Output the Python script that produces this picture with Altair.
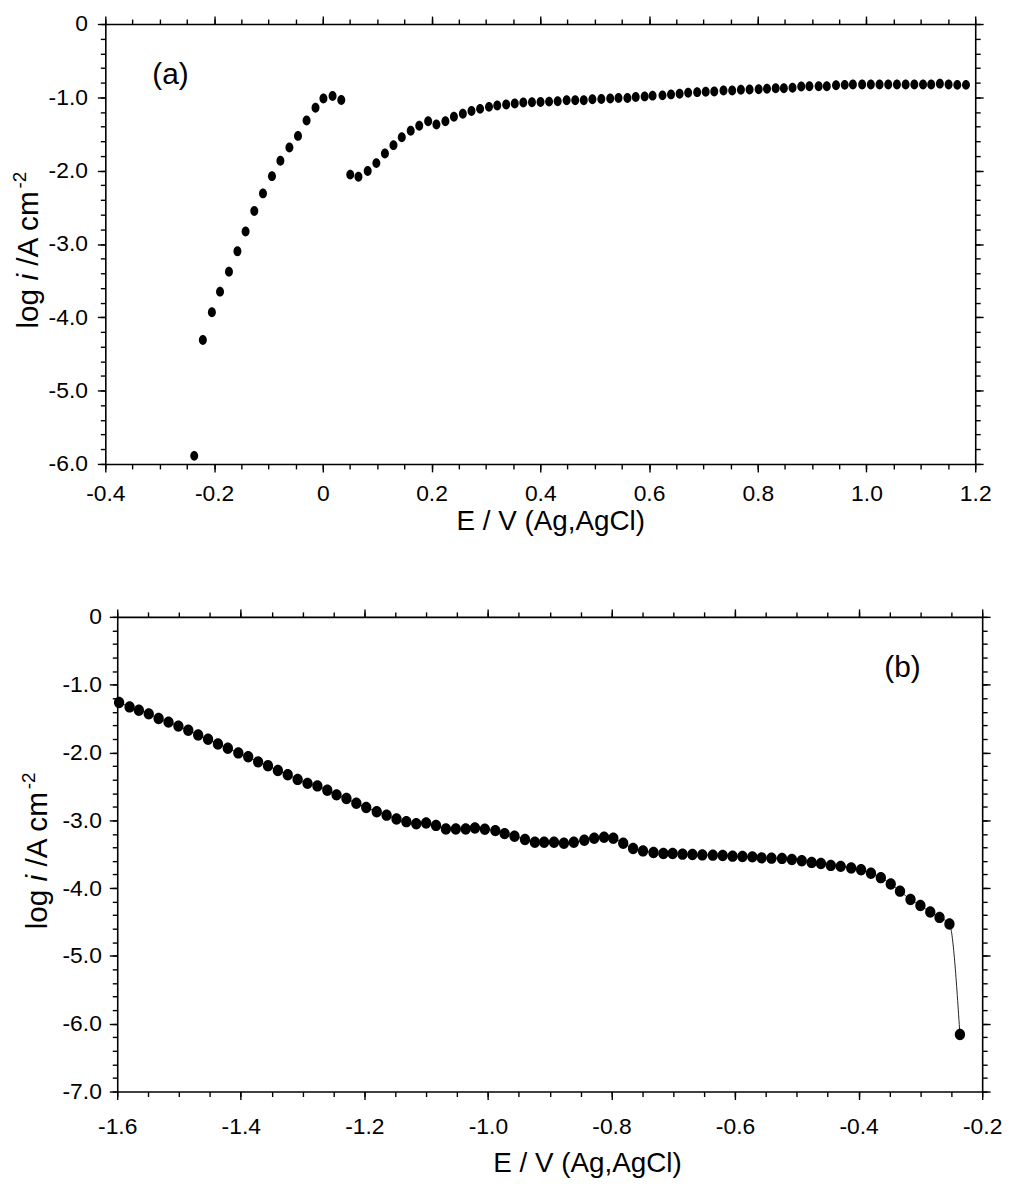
import altair as alt
import pandas as pd

FONT = "Liberation Sans, Arial, sans-serif"

# ---------------- panel (a) data ----------------
A_E = [-0.2365, -0.2206, -0.204, -0.189, -0.1726, -0.157, -0.142, -0.126, -0.110,
       -0.0935, -0.078, -0.0614, -0.0456, -0.0298, -0.0134, 0.0012, 0.018, 0.034,
       0.0505, 0.0656, 0.0826, 0.0985, 0.1143, 0.130, 0.1453, 0.1617, 0.1774, 0.1938,
       0.209, 0.2255, 0.2412, 0.2576, 0.2735, 0.2893, 0.3057, 0.3209, 0.3373, 0.3531,
       0.3688, 0.3847, 0.4005, 0.4162, 0.432, 0.4485, 0.4643, 0.48, 0.4959, 0.5123,
       0.5287, 0.5439, 0.5603, 0.5756, 0.592, 0.6066, 0.6248, 0.6405, 0.6563, 0.672,
       0.6886, 0.7043, 0.72, 0.737, 0.753, 0.769, 0.785, 0.8017, 0.817, 0.833, 0.848,
       0.864, 0.880, 0.895, 0.912, 0.927, 0.944, 0.960, 0.975, 0.992, 1.008, 1.024,
       1.040, 1.056, 1.072, 1.088, 1.104, 1.119, 1.135, 1.151, 1.167, 1.183]
A_LOGI = [-5.89, -4.31, -3.93, -3.65, -3.38, -3.10, -2.83, -2.55, -2.31,
          -2.075, -1.866, -1.683, -1.526, -1.317, -1.143, -1.017, -0.982, -1.036,
          -2.054, -2.084, -2.004, -1.897, -1.767, -1.652, -1.545, -1.455, -1.388, -1.325,
          -1.371, -1.325, -1.264, -1.224, -1.187, -1.157, -1.13, -1.111, -1.098, -1.084,
          -1.071, -1.067, -1.063, -1.058, -1.054, -1.04, -1.04, -1.04, -1.027, -1.023,
          -1.017, -1.009, -1.009, -0.996, -0.987, -0.977, -0.973, -0.96, -0.95, -0.937,
          -0.929, -0.924, -0.92, -0.906, -0.906, -0.897, -0.893, -0.889, -0.884, -0.875, -0.875,
          -0.87, -0.853, -0.849, -0.849, -0.849, -0.835, -0.83, -0.826, -0.826, -0.826, -0.826,
          -0.826, -0.826, -0.826, -0.826, -0.826, -0.826, -0.813, -0.826, -0.83, -0.83]

# ---------------- panel (b) data ----------------
B_E = [-1.597, -1.580, -1.565, -1.549, -1.533, -1.517, -1.501, -1.485, -1.469, -1.453,
       -1.437, -1.421, -1.404, -1.388, -1.372, -1.356, -1.340, -1.324, -1.308, -1.292,
       -1.276, -1.260, -1.245, -1.229, -1.213, -1.197, -1.180, -1.164, -1.148, -1.132,
       -1.116, -1.100, -1.084, -1.068, -1.052, -1.036, -1.021, -1.005, -0.988, -0.973,
       -0.957, -0.940, -0.924,
       -0.909, -0.893, -0.877, -0.861, -0.844, -0.828, -0.812, -0.797, -0.781, -0.765,
       -0.749, -0.732, -0.716, -0.701, -0.685, -0.669, -0.653, -0.636, -0.620, -0.604,
       -0.588, -0.572, -0.557, -0.541, -0.524, -0.508, -0.492, -0.476, -0.461, -0.445,
       -0.429, -0.412, -0.396, -0.380, -0.364, -0.348, -0.333, -0.316, -0.300, -0.284,
       -0.269, -0.253, -0.236]
B_LOGI = [-1.264, -1.328, -1.376, -1.430, -1.498, -1.552, -1.611, -1.673, -1.742, -1.805,
          -1.874, -1.937, -2.006, -2.064, -2.138, -2.196, -2.265, -2.328, -2.397, -2.455,
          -2.493, -2.558, -2.625, -2.679, -2.748, -2.811, -2.874, -2.924, -2.982, -3.020,
          -3.050, -3.041, -3.075, -3.129, -3.129, -3.129, -3.114, -3.133, -3.152, -3.196,
          -3.236, -3.284, -3.324,
          -3.324, -3.324, -3.338, -3.324, -3.294, -3.265, -3.250, -3.265, -3.338, -3.416,
          -3.451, -3.474, -3.489, -3.489, -3.499, -3.504, -3.510, -3.514, -3.518, -3.529,
          -3.533, -3.539, -3.554, -3.558, -3.562, -3.577, -3.597, -3.621, -3.636, -3.665,
          -3.679, -3.704, -3.729, -3.782, -3.846, -3.939, -4.045, -4.168, -4.256, -4.353,
          -4.432, -4.529, -6.160]

# ---------------- axes / ticks ----------------
A_X_DOMAIN = [-0.4, 1.2]
A_Y_DOMAIN = [-6, 0]
A_X_MAJOR = [-0.4, -0.2, 0, 0.2, 0.4, 0.6, 0.8, 1.0, 1.2]
A_X_MINOR = [round(-0.4 + 0.05 * i, 2) for i in range(33)]
A_Y_MAJOR = [0, -1, -2, -3, -4, -5, -6]
A_Y_MINOR = [round(-0.2 * i, 1) for i in range(31)]

B_X_DOMAIN = [-1.6, -0.2]
B_Y_DOMAIN = [-7, 0]
B_X_MAJOR = [-1.6, -1.4, -1.2, -1.0, -0.8, -0.6, -0.4, -0.2]
B_X_MINOR = [round(-1.6 + 0.05 * i, 2) for i in range(29)]
B_Y_MAJOR = [0, -1, -2, -3, -4, -5, -6, -7]
B_Y_MINOR = [round(-0.2 * i, 1) for i in range(36)]

X_TITLE = "E / V (Ag,AgCl)"
TAGS = ["(a)", "(b)"]
TAG_A_POS = [-0.28, -0.70]
TAG_B_POS = [-0.329, -0.76]

LABEL_EXPR = "datum.value == 0 ? '0' : replace(format(datum.value, '.1f'), '\u2212', '-')"

SHAPE_A = ("M0,-1 C0.44,-1 0.8,-0.55 0.8,0 C0.8,0.55 0.44,1 0,1 "
           "C-0.44,1 -0.8,0.55 -0.8,0 C-0.8,-0.55 -0.44,-1 0,-1 Z")
SHAPE_B = ("M0,-1 C0.5,-1 0.9,-0.55 0.9,0 C0.9,0.55 0.5,1 0,1 "
           "C-0.5,1 -0.9,0.55 -0.9,0 C-0.9,-0.55 -0.5,-1 0,-1 Z")

DUMMY = pd.DataFrame({"d": [0]})
AX = dict(grid=False, domainColor="black", tickColor="black", domainWidth=1.6,
          tickWidth=1.4, labelFlush=False, labelOverlap=False)


def ytitle_layers(xb, yc):
    total = 157.4
    y0 = yc + total / 2
    segs = [("log", 0, 30, "normal", 0),
            ("i", 48.3, 30, "italic", 0),
            ("/A cm", 63.3, 30, "normal", 0),
            ("-2", 141.0, 19, "normal", -12)]
    out = []
    for t, off, fs, style, dx in segs:
        out.append(
            alt.Chart(DUMMY).mark_text(text=t, angle=270, align="left",
                                       baseline="alphabetic", fontSize=fs,
                                       fontStyle=style, font=FONT, color="black")
            .encode(x=alt.value(xb + dx), y=alt.value(y0 - off))
        )
    return out


def make_panel(E, L, xdom, ydom, xmaj, xmin, ymaj, ymin, w, h, shape, size,
               title_x, title_y, xlab_pad, ylab_pad, tag, tag_pos,
               yt_x, yt_c, with_line):
    df = pd.DataFrame({"E": E, "logi": L})
    sx = alt.Scale(domain=xdom, nice=False, zero=False)
    sy = alt.Scale(domain=ydom, nice=False, zero=False)

    layers = []
    # minor ticks bottom / left
    layers.append(alt.Chart(df).mark_point(opacity=0).encode(
        x=alt.X("E:Q", scale=sx, axis=alt.Axis(orient="bottom", values=xmin, tickSize=5,
                                              labels=False, domain=False, title=None, **AX)),
        y=alt.Y("logi:Q", scale=sy, axis=alt.Axis(orient="left", values=ymin, tickSize=5,
                                                 labels=False, domain=False, title=None, **AX))))
    # major ticks top / right
    layers.append(alt.Chart(df).mark_point(opacity=0).encode(
        x=alt.X("E:Q", scale=sx, axis=alt.Axis(orient="top", values=xmaj, tickSize=8,
                                              labels=False, title=None, **AX)),
        y=alt.Y("logi:Q", scale=sy, axis=alt.Axis(orient="right", values=ymaj, tickSize=8,
                                                 labels=False, title=None, **AX))))
    # minor ticks top / right
    layers.append(alt.Chart(df).mark_point(opacity=0).encode(
        x=alt.X("E:Q", scale=sx, axis=alt.Axis(orient="top", values=xmin, tickSize=5,
                                              labels=False, domain=False, title=None, **AX)),
        y=alt.Y("logi:Q", scale=sy, axis=alt.Axis(orient="right", values=ymin, tickSize=5,
                                                 labels=False, domain=False, title=None, **AX))))
    if with_line:
        layers.append(alt.Chart(df).mark_line(color="#222222", strokeWidth=1,
                                              interpolate="monotone").encode(
            x=alt.X("E:Q", scale=sx, axis=None),
            y=alt.Y("logi:Q", scale=sy, axis=None)))
    # data points with labelled main axes
    layers.append(alt.Chart(df).mark_point(filled=True, shape=shape, size=size,
                                           color="black", opacity=1).encode(
        x=alt.X("E:Q", scale=sx, axis=alt.Axis(
            orient="bottom", values=xmaj, tickSize=8, labelExpr=LABEL_EXPR,
            labelPadding=xlab_pad, title=X_TITLE, titleX=title_x, titleY=title_y,
            titleAlign="center", titleBaseline="alphabetic", **AX)),
        y=alt.Y("logi:Q", scale=sy, axis=alt.Axis(
            orient="left", values=ymaj, tickSize=8, labelExpr=LABEL_EXPR,
            labelPadding=ylab_pad, title=None, **AX))))
    # panel tag
    tdf = pd.DataFrame({"E": [tag_pos[0]], "logi": [tag_pos[1]], "t": [tag]})
    layers.append(alt.Chart(tdf).mark_text(fontSize=30, font=FONT, color="black").encode(
        x=alt.X("E:Q", scale=sx, axis=None),
        y=alt.Y("logi:Q", scale=sy, axis=None),
        text="t:N"))
    layers += ytitle_layers(yt_x, yt_c)
    return alt.layer(*layers).resolve_axis(x="independent", y="independent").properties(
        width=w, height=h)


panel_a = make_panel(A_E, A_LOGI, A_X_DOMAIN, A_Y_DOMAIN, A_X_MAJOR, A_X_MINOR,
                     A_Y_MAJOR, A_Y_MINOR, 876, 443, SHAPE_A, 100,
                     448, 66, 11, 10, TAGS[0], TAG_A_POS, -68, 228, False)
panel_b = make_panel(B_E, B_LOGI, B_X_DOMAIN, B_Y_DOMAIN, B_X_MAJOR, B_X_MINOR,
                     B_Y_MAJOR, B_Y_MINOR, 871, 478, SHAPE_B, 132,
                     473, 81, 16, 8, TAGS[1], TAG_B_POS, -71, 236, True)

spacer = alt.Chart(DUMMY).mark_point(opacity=0).encode(
    x=alt.X("d:Q", axis=None), y=alt.Y("d:Q", axis=None)).properties(width=12, height=10)

chart = alt.vconcat(
    panel_a,
    alt.hconcat(spacer, panel_b, spacing=0, bounds="flush"),
    spacing=154, bounds="flush",
).properties(
    padding={"left": 2, "top": 0, "right": 4, "bottom": 4}
).configure_view(stroke="transparent").configure_axis(
    labelFont=FONT, labelFontSize=23, labelColor="black",
    titleFont=FONT, titleFontSize=28, titleFontWeight="normal", titleColor="black")

chart.save("out.html", embed_options={"renderer": "svg", "actions": False})
